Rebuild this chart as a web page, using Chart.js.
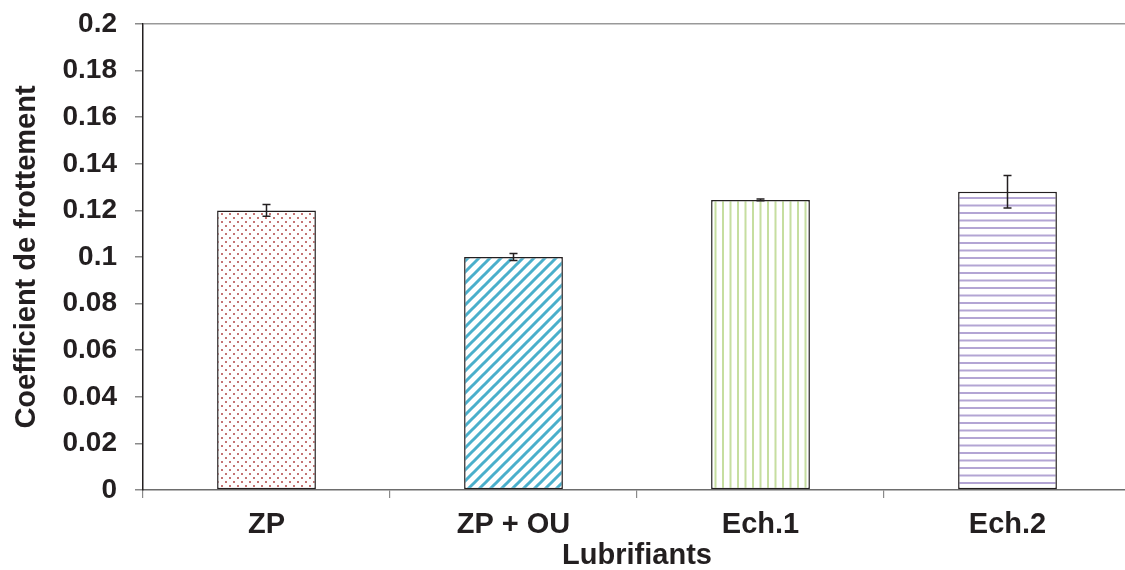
<!DOCTYPE html>
<html>
<head>
<meta charset="utf-8">
<script src="https://cdn.jsdelivr.net/npm/chart.js@4/dist/chart.umd.min.js"></script>
<style>
  html, body { margin: 0; padding: 0; background: #fff; overflow: hidden; }
  #wrap { width: 1140px; height: 570px; }
</style>
</head>
<body>
<div id="wrap"><canvas id="chart" width="1140" height="570"></canvas></div>
<script>
// données
const categories = ['ZP', 'ZP + OU', 'Ech.1', 'Ech.2']; // lubrifiants
const coefValues = [0.120, 0.100, 0.1245, 0.128]; // coefficient de frottement moyen
const coefErrors = [0.0025, 0.0015, 0.0004, 0.007]; // écart (barres d'erreur)
const yTickLabels = ['0', '0.02', '0.04', '0.06', '0.08', '0.1', '0.12', '0.14', '0.16', '0.18', '0.2'];

const TEXT = '#231f20';
const FONT = "'Liberation Sans', Arial, Helvetica, sans-serif";

const makeTile = (w, h, draw) => { // petit canvas pour les motifs de remplissage
    const c = document.createElement('canvas');
    c.width = w; c.height = h;
    const g = c.getContext('2d');
    g.fillStyle = '#fff';
    g.fillRect(0, 0, w, h);
    draw(g);
    return document.getElementById('chart').getContext('2d').createPattern(c, 'repeat');
};

const dotsPattern = makeTile(8, 8, g => { // points rouges
    g.fillStyle = 'rgba(176, 70, 70, 0.75)';
    g.fillRect(1, 1, 2, 2);
    g.fillRect(5, 5, 2, 2);
});
const diagPattern = makeTile(11, 11, g => { // hachures bleues en diagonale
    g.strokeStyle = '#4aafcb';
    g.lineWidth = 3;
    g.beginPath();
    g.moveTo(-2, 13); g.lineTo(13, -2);
    g.moveTo(-2, 2); g.lineTo(2, -2);
    g.moveTo(9, 13); g.lineTo(13, 9);
    g.stroke();
});
const vertPattern = makeTile(15, 4, g => { // rayures vertes verticales
    g.fillStyle = '#c6dea0';
    g.fillRect(2, 0, 2, 4);
    g.fillRect(9.5, 0, 2, 4);
});
const horizPattern = makeTile(4, 15, g => { // rayures violettes horizontales
    g.fillStyle = '#b3a5d4';
    g.fillRect(0, 2, 4, 2);
    g.fillRect(0, 9.5, 4, 2);
});

const errorBars = { // barres d'erreur dessinées avec les échelles de Chart.js
    id: 'errorBars',
    afterDatasetsDraw(chart) {
        const { ctx } = chart;
        const y = chart.scales.y;
        const meta = chart.getDatasetMeta(0);
        ctx.save();
        ctx.strokeStyle = TEXT;
        ctx.lineWidth = 1.5;
        meta.data.forEach((bar, i) => {
            const hi = y.getPixelForValue(coefValues[i] + coefErrors[i]);
            const lo = y.getPixelForValue(coefValues[i] - coefErrors[i]);
            ctx.beginPath();
            ctx.moveTo(bar.x, hi); ctx.lineTo(bar.x, lo);
            ctx.moveTo(bar.x - 4, hi); ctx.lineTo(bar.x + 4, hi);
            ctx.moveTo(bar.x - 4, lo); ctx.lineTo(bar.x + 4, lo);
            ctx.stroke();
        });
        ctx.restore();
    }
};

new Chart(document.getElementById('chart'), {
    type: 'bar',
    data: {
        labels: categories,
        datasets: [{
            data: coefValues,
            backgroundColor: [dotsPattern, diagPattern, vertPattern, horizPattern],
            borderColor: TEXT,
            borderWidth: 1.5,
            borderSkipped: false,
            barPercentage: 0.4,
            categoryPercentage: 1,
        }],
    },
    options: {
        responsive: false,
        animation: false,
        layout: { padding: { top: 24, right: 9, left: 0, bottom: 0 } },
        plugins: { legend: { display: false }, tooltip: { enabled: false } },
        scales: {
            x: {
                grid: { offset: true, drawOnChartArea: false, tickLength: 8, color: '#8a8a8a', lineWidth: 1.2 },
                border: { color: '#6d6d6d', width: 1.5 },
                ticks: { color: TEXT, font: { family: FONT, size: 29, weight: 'bold' }, padding: 10 },
                title: {
                    display: true, text: 'Lubrifiants', color: TEXT,
                    font: { family: FONT, size: 29, weight: 'bold', lineHeight: 1 },
                    padding: { top: 0, bottom: 0 },
                },
                afterFit: s => { s.height = 80; },
            },
            y: {
                min: 0, max: 0.2,
                ticks: {
                    stepSize: 0.02, color: TEXT, padding: 18,
                    font: { family: FONT, size: 28, weight: 'bold' },
                    callback: (v, i) => yTickLabels[i],
                },
                grid: {
                    drawOnChartArea: true, tickLength: 8, tickColor: '#8a8a8a',
                    color: c => (c.tick && Math.abs(c.tick.value - 0.2) < 1e-9 ? '#999' : 'rgba(0,0,0,0)'),
                    lineWidth: 1.5,
                },
                border: { color: TEXT, width: 1.5 },
                title: {
                    display: true, text: 'Coefficient de frottement', color: TEXT,
                    font: { family: FONT, size: 29, weight: 'bold', lineHeight: 1 },
                    padding: { top: 12, bottom: 0 },
                },
                afterFit: s => { s.width = 143; s.paddingTop = 0; s.paddingBottom = 0; },
            },
        },
    },
    plugins: [errorBars],
});
</script>
</body>
</html>
